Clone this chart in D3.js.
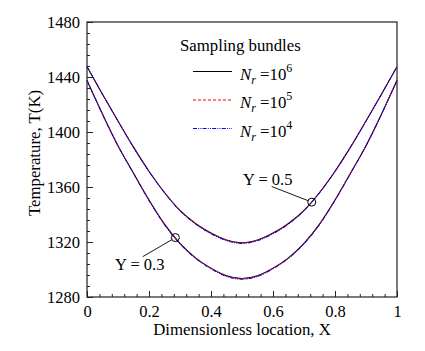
<!DOCTYPE html>
<html>
<head>
<meta charset="utf-8">
<script src="https://cdn.jsdelivr.net/npm/d3@7"></script>
<style>
  body { margin: 0; background: #fff; }
  svg, svg text { font-family: "Liberation Serif", "Times New Roman", serif; }
</style>
</head>
<body>
<div id="chart"></div>
<script>
// size of the picture and the plot box inside it
const WIDTH = 425;
const HEIGHT = 351;
const MARGINS = {left: 87, right: 28, top: 22, bottom: 54};
const SERIF = "'Liberation Serif', 'Times New Roman', serif";

// x positions of the samples (dimensionless location)
const X_VALS = [0, 0.05, 0.1, 0.15, 0.2, 0.25, 0.3, 0.35, 0.4, 0.45, 0.5,
                0.55, 0.6, 0.65, 0.7, 0.75, 0.8, 0.85, 0.9, 0.95, 1];

// temperature along Y = 0.5 for each number of bundles
const T_Y05_NR6 = [1447.5, 1427.5, 1408, 1389, 1371.5, 1356, 1343, 1333.5, 1326.5, 1321.5, 1319.5,
                   1321.5, 1326.5, 1333.5, 1343, 1356, 1371.5, 1389, 1408, 1427.5, 1447.5];
const T_Y05_NR5 = [1447.4, 1427.6, 1408, 1389.2, 1371.4, 1356.1, 1342.9, 1333.4, 1326.3, 1321.4, 1319.3,
                   1321.3, 1326.4, 1333.3, 1342.8, 1355.9, 1371.3, 1389.1, 1408.1, 1427.4, 1447.4];
const T_Y05_NR4 = [1447.6, 1427.4, 1407.9, 1388.8, 1371.2, 1355.7, 1342.6, 1333, 1325.9, 1321, 1318.9,
                   1320.9, 1325.9, 1333, 1342.6, 1355.6, 1371.2, 1388.9, 1407.9, 1427.6, 1447.6];

// temperature along Y = 0.3 for each number of bundles
const T_Y03_NR6 = [1437.5, 1413, 1390, 1370, 1350.5, 1333, 1319, 1308.5, 1301, 1295.5, 1293.5,
                   1295.5, 1301, 1308.5, 1319, 1333, 1350.5, 1370, 1390, 1413, 1437.5];
const T_Y03_NR5 = [1437.4, 1413.1, 1390, 1370.1, 1350.3, 1332.8, 1318.8, 1308.3, 1300.8, 1295.3, 1293.3,
                   1295.2, 1300.8, 1308.3, 1318.8, 1332.8, 1350.4, 1370.1, 1390, 1413, 1437.4];
const T_Y03_NR4 = [1437.6, 1412.8, 1389.8, 1369.8, 1350.1, 1332.5, 1318.5, 1308, 1300.4, 1294.9, 1292.9,
                   1294.9, 1300.4, 1308, 1318.5, 1332.6, 1350.1, 1369.8, 1389.9, 1412.9, 1437.6];

// tick values
const X_TICKS = [0, 0.2, 0.4, 0.6, 0.8, 1];
const X_MINOR = [0.04, 0.08, 0.12, 0.16, 0.24, 0.28, 0.32, 0.36, 0.44, 0.48, 0.52, 0.56,
                 0.64, 0.68, 0.72, 0.76, 0.84, 0.88, 0.92, 0.96];
const Y_TICKS = [1280, 1320, 1360, 1400, 1440, 1480];
const Y_MINOR = [1288, 1296, 1304, 1312, 1328, 1336, 1344, 1352, 1368, 1376, 1384, 1392,
                 1408, 1416, 1424, 1432, 1448, 1456, 1464, 1472];

// legend entries and marked points
const LEGEND_EXP = ["6", "5", "4"];
const MARKS = [{x: 0.285, t: 1323.2, label: "Y = 0.3"}, {x: 0.725, t: 1349.0, label: "Y = 0.5"}];

const VIS_W = WIDTH - MARGINS.left - MARGINS.right;
const VIS_H = HEIGHT - MARGINS.top - MARGINS.bottom;

const SVG = d3.select("#chart")
              .append("svg")
                .attr("width", WIDTH)
                .attr("height", HEIGHT)
                .attr("font-family", SERIF);

const X_SCALE = d3.scaleLinear().domain([0, 1]).range([MARGINS.left, MARGINS.left + VIS_W]);
const Y_SCALE = d3.scaleLinear().domain([1280, 1480]).range([MARGINS.top + VIS_H, MARGINS.top]);

// the three line styles, drawn black first so blue ends up on top
const STYLES = [
  {color: "#000", dash: null, width: 1.1},
  {color: "#ff0000", dash: "3,2", width: 1},
  {color: "#0000ff", dash: "4,1.2,1,1.2,1,1.2", width: 1}
];
const SERIES = [
  [T_Y05_NR6, T_Y03_NR6],
  [T_Y05_NR5, T_Y03_NR5],
  [T_Y05_NR4, T_Y03_NR4]
];

const LINE = d3.line()
               .x((d) => X_SCALE(d[0]))
               .y((d) => Y_SCALE(d[1]))
               .curve(d3.curveMonotoneX);

SERIES.forEach((pair, i) => {
  pair.forEach((vals) => {
    SVG.append("path")
       .datum(X_VALS.map((x, j) => [x, vals[j]]))
       .attr("d", LINE)
       .attr("fill", "none")
       .attr("stroke", STYLES[i].color)
       .attr("stroke-width", STYLES[i].width)
       .attr("stroke-dasharray", STYLES[i].dash);
  });
});

// frame around the plot
SVG.append("rect")
   .attr("x", MARGINS.left)
   .attr("y", MARGINS.top)
   .attr("width", VIS_W)
   .attr("height", VIS_H)
   .attr("fill", "none")
   .attr("stroke", "#222")
   .attr("stroke-width", 1.2);

// axes with ticks pointing inwards
const fmtX = (d) => (d === 0 || d === 1) ? String(d) : d.toFixed(1);

const xAxis = SVG.append("g")
   .attr("transform", "translate(0," + (MARGINS.top + VIS_H) + ")")
   .call(d3.axisBottom(X_SCALE).tickValues(X_TICKS).tickFormat(fmtX).tickSizeInner(-6).tickSizeOuter(0).tickPadding(8));

const xMinor = SVG.append("g")
   .attr("transform", "translate(0," + (MARGINS.top + VIS_H) + ")")
   .call(d3.axisBottom(X_SCALE).tickValues(X_MINOR).tickFormat("").tickSizeInner(-3).tickSizeOuter(0));

const yAxis = SVG.append("g")
   .attr("transform", "translate(" + MARGINS.left + ",0)")
   .call(d3.axisLeft(Y_SCALE).tickValues(Y_TICKS).tickFormat(d3.format("d")).tickSizeInner(-6).tickSizeOuter(0).tickPadding(7));

const yMinor = SVG.append("g")
   .attr("transform", "translate(" + MARGINS.left + ",0)")
   .call(d3.axisLeft(Y_SCALE).tickValues(Y_MINOR).tickFormat("").tickSizeInner(-3).tickSizeOuter(0));

[xAxis, xMinor, yAxis, yMinor].forEach((g) => {
  g.attr("font-family", SERIF).attr("font-size", null);
  g.select(".domain").remove();
  g.selectAll("text")
     .attr("font-family", SERIF)
     .attr("font-size", "16.5px")
     .attr("fill", "#000");
  g.selectAll(".tick line").attr("stroke", "#222");
});

// axis titles
SVG.append("text")
   .attr("x", X_SCALE(0.5))
   .attr("y", 335)
   .attr("text-anchor", "middle")
   .attr("font-size", "16.8px")
   .text("Dimensionless location, X");

SVG.append("text")
   .attr("transform", "translate(40," + 153 + ") rotate(-90)")
   .attr("text-anchor", "middle")
   .attr("font-size", "16.8px")
   .text("Temperature, T(K)");

// legend
SVG.append("text")
   .attr("x", 180)
   .attr("y", 51)
   .attr("font-size", "16.8px")
   .text("Sampling bundles");

LEGEND_EXP.forEach((e, i) => {
  const ly = 71.5 + i * 28.5;
  SVG.append("line")
     .attr("x1", 193).attr("x2", 232)
     .attr("y1", ly).attr("y2", ly)
     .attr("stroke", STYLES[i].color)
     .attr("stroke-width", STYLES[i].width)
     .attr("stroke-dasharray", STYLES[i].dash);
  const t = SVG.append("text")
     .attr("x", 240)
     .attr("y", ly + 8)
     .attr("font-size", "16.8px");
  t.append("tspan").attr("font-style", "italic").text("N");
  t.append("tspan").attr("font-style", "italic").attr("font-size", "12px").attr("dy", 4).text("r");
  t.append("tspan").attr("dy", -4).text(" =10");
  t.append("tspan").attr("font-size", "12px").attr("dy", -8).text(e);
});

// marked points with leader lines
const LABEL_POS = [{tx: 115, ty: 270, lx: 142.7, ly: 256.7}, {tx: 243, ty: 185, lx: 271.7, ly: 186.5}];
MARKS.forEach((m, i) => {
  const cx = X_SCALE(m.x), cy = Y_SCALE(m.t);
  const p = LABEL_POS[i];
  const ang = Math.atan2(p.ly - cy, p.lx - cx);
  SVG.append("line")
     .attr("x1", p.lx).attr("y1", p.ly)
     .attr("x2", cx + 4 * Math.cos(ang)).attr("y2", cy + 4 * Math.sin(ang))
     .attr("stroke", "#000").attr("stroke-width", 0.9);
  SVG.append("circle")
     .attr("cx", cx).attr("cy", cy).attr("r", 4)
     .attr("fill", "none").attr("stroke", "#000").attr("stroke-width", 1);
  SVG.append("text")
     .attr("x", p.tx).attr("y", p.ty)
     .attr("font-size", "16.5px")
     .text(m.label);
});
</script>
</body>
</html>
